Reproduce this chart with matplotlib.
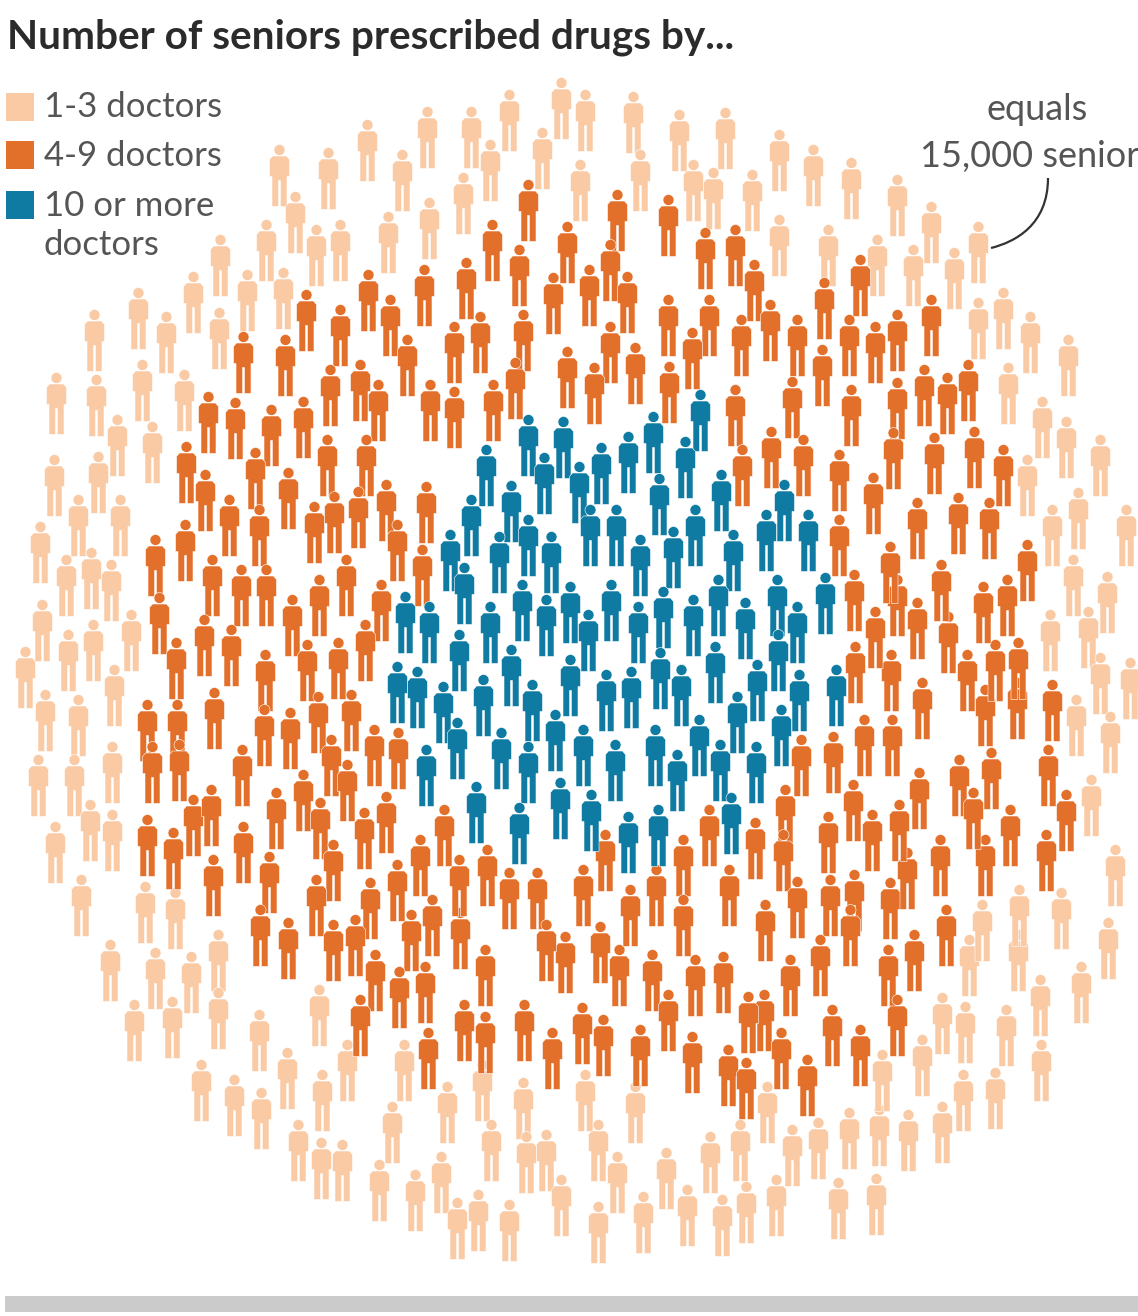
import matplotlib
matplotlib.use("Agg")
import matplotlib.pyplot as plt
from matplotlib.path import Path
from matplotlib.patches import PathPatch, Rectangle

TITLE = "Number of seniors prescribed drugs by..."
LEGEND_LABELS = ["1-3 doctors", "4-9 doctors", "10 or more", "doctors"]
NOTE_LINES = ["equals", "15,000 senior"]
LIGHT_COLOR, ORANGE_COLOR, BLUE_COLOR = "#FACAA4", "#E2702A", "#0F7BA2"

# positions of each person
light = [(509,120),(561,108),(585,120),(633,122),(471,137),(427,137),(679,140),(725,138),(367,150),(542,158),
(779,160),(813,175),(851,188),(328,178),(402,180),(279,175),(490,170),(463,203),(580,190),(640,180),(693,190),
(713,198),(752,200),(897,205),(295,222),(429,228),(388,242),(931,232),(266,250),(316,255),(340,250),(779,245),
(828,255),(877,265),(913,275),(954,278),(978,252),(220,265),(247,300),(283,298),(193,302),(138,318),(166,342),
(94,340),(219,338),(142,390),(184,400),(56,403),(96,405),(117,445),(152,452),(54,485),(98,482),(78,525),(120,525),
(40,552),(66,585),(91,578),(111,590),(131,640),(42,630),(68,660),(93,650),(25,677),(114,695),(45,720),(78,725),
(112,772),(38,785),(74,785),(55,852),(90,830),(112,840),(81,905),(145,912),(175,918),(110,970),(155,978),(191,982),
(218,960),(134,1030),(172,1027),(218,1018),(259,1040),(319,1015),(287,1078),(347,1070),(201,1090),(234,1105),
(261,1118),(322,1100),(404,1070),(482,1090),(298,1150),(321,1168),(342,1170),(392,1132),(447,1112),(523,1108),
(585,1100),(635,1112),(767,1112),(379,1190),(415,1200),(441,1182),(491,1150),(526,1162),(546,1160),(598,1150),
(617,1182),(666,1178),(710,1162),(740,1150),(792,1155),(818,1148),(849,1138),(879,1135),(908,1140),(942,1132),
(457,1228),(478,1220),(509,1230),(561,1205),(598,1232),(643,1222),(687,1215),(722,1225),(746,1212),(776,1205),
(838,1208),(876,1204),(882,1080),(922,1065),(963,1100),(995,1098),(1041,1070),(942,1023),(965,1032),(1006,1035),
(1040,1005),(1081,992),(969,965),(1018,960),(1061,918),(1108,948),(1019,915),(982,930),(1115,875),(1091,805),
(1068,365),(1030,342),(1003,318),(978,328),(1008,393),(1042,427),(1066,447),(1100,465),(1027,485),(1078,518),
(1052,535),(1126,535),(1073,585),(1107,602),(1050,640),(1088,637),(1100,683),(1130,688),(1076,725),(1110,742)]

orange = [(528,210),(617,220),(668,225),(492,250),(567,252),(705,258),(735,255),(519,275),(610,270),(754,290),(860,285),
(368,300),(424,295),(466,288),(553,303),(589,295),(627,302),(824,308),(306,320),(390,325),(340,335),(668,325),(709,325),
(931,325),(770,330),(897,340),(243,362),(285,365),(407,365),(454,352),(480,342),(523,340),(610,352),(692,358),(741,345),
(797,345),(849,345),(875,352),(822,375),(567,377),(635,373),(594,393),(515,388),(669,392),(360,390),(330,395),(968,390),
(924,395),(947,403),(897,408),(378,410),(430,410),(454,417),(493,410),(735,415),(792,407),(851,415),(208,422),(235,428),
(271,435),(303,427),(327,465),(366,465),(255,478),(186,472),(205,500),(288,498),(229,525),(259,535),(314,532),(334,522),
(358,517),(386,510),(426,512),(397,550),(422,575),(346,585),(381,610),(319,605),(292,625),(212,585),(241,595),(266,595),
(155,565),(185,550),(159,623),(204,645),(231,655),(176,668),(265,680),(307,670),(338,668),(365,650),(214,718),(264,735),
(290,738),(318,722),(351,720),(147,730),(177,730),(152,772),(179,770),(242,775),(303,800),(331,765),(347,790),(374,755),
(398,758),(147,845),(193,825),(211,815),(173,858),(243,852),(276,818),(320,828),(364,838),(386,822),(444,835),(420,865),
(333,870),(269,882),(316,905),(370,908),(397,890),(213,885),(260,935),(288,948),(333,950),(355,945),(411,940),(432,925),
(460,938),(459,885),(487,875),(509,898),(537,898),(583,895),(605,860),(656,895),(683,865),(709,835),(755,848),(785,815),
(783,860),(729,895),(765,930),(797,907),(830,905),(854,900),(890,908),(907,878),(940,865),(1010,835),(985,865),(1046,860),(1066,820),
(1048,775),(1052,710),(1017,708),(991,778),(959,785),(973,818),(919,798),(899,830),(872,840),(853,810),(828,842),(801,765),
(833,762),(864,745),(892,745),(891,680),(922,708),(948,642),(967,680),(985,715),(995,670),(1018,668),(1027,570),(1007,605),
(983,612),(941,590),(917,628),(897,605),(875,637),(854,600),(855,672),(890,572),(839,545),(839,480),(873,503),(917,528),
(958,523),(989,528),(1003,475),(974,457),(934,463),(893,458),(803,465),(771,457),(742,475),(946,935),(914,960),(888,975),
(850,935),(820,965),(790,985),(764,1020),(723,982),(695,985),(652,980),(619,975),(600,952),(565,962),(546,950),(630,915),
(683,925),(485,975),(425,992),(399,997),(375,980),(360,1025),(428,1058),(464,1030),(485,1042),(524,1030),(552,1058),
(582,1033),(603,1045),(640,1055),(668,1020),(692,1062),(748,1022),(728,1075),(746,1088),(781,1058),(807,1085),(832,1035),
(860,1055),(897,1025)]

blue = [(700,420),(528,445),(563,447),(653,442),(486,475),(601,473),(628,462),(685,467),(544,483),(579,492),(659,504),
(721,500),(471,525),(511,511),(784,510),(590,535),(616,535),(528,545),(499,562),(551,562),(695,535),(673,557),(766,540),
(808,540),(450,560),(733,560),(640,565),(464,593),(522,610),(570,612),(611,610),(718,605),(777,605),(825,603),(405,622),
(429,632),(490,632),(546,625),(588,640),(638,632),(663,617),(693,625),(745,628),(797,632),(459,660),(511,675),(570,685),
(660,678),(715,672),(778,660),(397,692),(417,697),(443,712),(483,705),(532,710),(606,700),(631,697),(681,695),(757,690),
(799,700),(836,695),(737,722),(457,748),(555,740),(583,755),(501,758),(528,772),(655,755),(699,745),(781,735),(426,775),
(615,770),(677,780),(720,770),(756,772),(560,808),(591,820),(476,812),(519,833),(628,842),(658,835),(731,823)]


def person_path():
    """A standing figure, y up, about 62 high and 20 wide."""
    verts, codes = [], []
    head = Path.circle((0, 25.5), 5.5)
    verts += list(head.vertices)
    codes += list(head.codes)
    body = [(-7, 19.5), (7, 19.5), (10, 16), (10, -1), (7.5, -1), (7.5, -31), (0.9, -31), (0.9, -5),
            (-0.9, -5), (-0.9, -31), (-7.5, -31), (-7.5, -1), (-10, -1), (-10, 16), (-7, 19.5)]
    verts += body
    codes += [Path.MOVETO] + [Path.LINETO] * (len(body) - 2) + [Path.CLOSEPOLY]
    return Path(verts, codes)


fig = plt.figure(figsize=(11.38, 13.16), dpi=100, facecolor="white")
ax = fig.add_axes([0, 0, 1, 1])
ax.set_xlim(0, 1138)
ax.set_ylim(1316, 0)
ax.axis("off")

marker = person_path()
size = (62 * 72 / 100) ** 2
for pts, color, z in [(light, LIGHT_COLOR, 2), (orange, ORANGE_COLOR, 3), (blue, BLUE_COLOR, 4)]:
    ax.scatter([p[0] for p in pts], [p[1] for p in pts], marker=marker, s=size,
               c=color, edgecolors="white", linewidths=0.4, zorder=z)

ax.text(7, 37, TITLE, fontsize=29.2, fontweight="bold", family="Lato", color="#2b2b2b", va="center")

for y, col in [(106.5, LIGHT_COLOR), (154.5, ORANGE_COLOR), (204.5, BLUE_COLOR)]:
    ax.add_patch(Rectangle((6, y - 14), 28, 28, fc=col, ec="none", zorder=5))
for y, label in zip([107, 156, 206, 245], LEGEND_LABELS):
    ax.text(44, y, label, fontsize=25, family="Lato", color="#555555", va="center", zorder=6)

for y, line in zip([109, 157], NOTE_LINES):
    ax.text(1030 if line == NOTE_LINES[1] else 1037, y, line, fontsize=26, family="Lato", color="#555555",
            ha="center", va="center", zorder=6)
curve = Path([(1048, 178), (1048, 225), (1015, 242), (991, 248)], [Path.MOVETO, Path.CURVE4, Path.CURVE4, Path.CURVE4])
ax.add_patch(PathPatch(curve, fc="none", ec="#333333", lw=1.6, zorder=6))

ax.add_patch(Rectangle((5, 1296), 1133, 16, fc="#CBCBCB", ec="none"))

fig.savefig("out.png", dpi=100, facecolor="white")
